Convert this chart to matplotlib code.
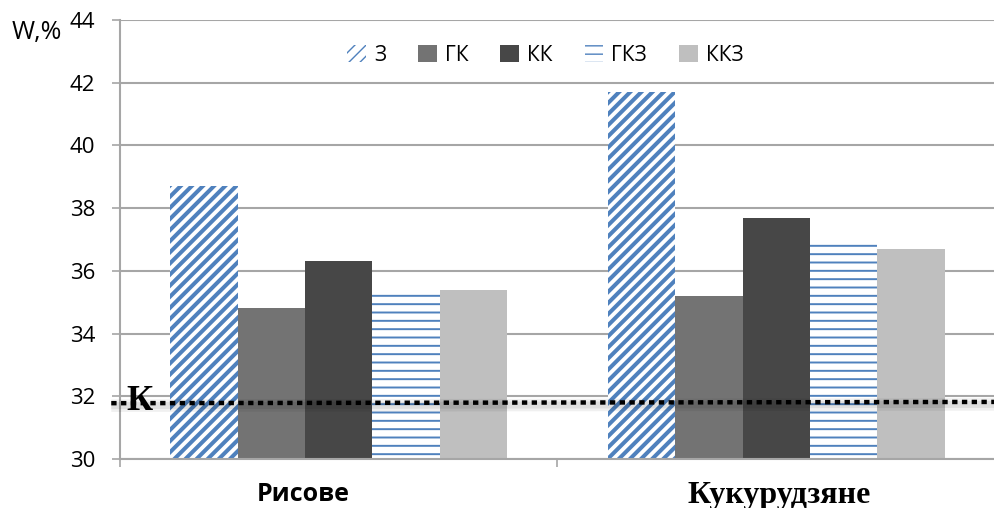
import matplotlib.pyplot as plt
import matplotlib.transforms as mtransforms
import numpy as np

categories = ['Рисове', 'Кукурудзяне']
series = ['З', 'ГК', 'КК', 'ГКЗ', 'ККЗ']
values = {
    'З':   [38.7, 41.7],
    'ГК':  [34.8, 35.2],
    'КК':  [36.3, 37.7],
    'ГКЗ': [35.4, 37.0],
    'ККЗ': [35.4, 36.7],
}
k_level = [31.78, 31.82]
yticks = [30, 32, 34, 36, 38, 40, 42, 44]

blue = '#4f81bd'
styles = {
    'З':   dict(color='white', hatch='///', edgecolor=blue, hlw=2.9),
    'ГК':  dict(color='#737373', hatch=None, edgecolor='none', hlw=1.0),
    'КК':  dict(color='#474747', hatch=None, edgecolor='none', hlw=1.0),
    'ГКЗ': dict(color='white', hatch='--', edgecolor=blue, hlw=1.4),
    'ККЗ': dict(color='#bfbfbf', hatch=None, edgecolor='none', hlw=1.0),
}

plt.rcParams['font.family'] = ['Open Sans', 'DejaVu Sans']

fig = plt.figure(figsize=(9.95, 5.08), dpi=100)
ax = fig.add_axes([0.1206, 0.0965, 0.8794, 0.864])

x = np.arange(len(categories))
width = 0.154
for i, s in enumerate(series):
    st = styles[s]
    plt.rcParams['hatch.linewidth'] = st['hlw']
    offs = (i - 2) * width
    ax.bar(x + offs, values[s], width, color=st['color'],
           hatch=st['hatch'], edgecolor=st['edgecolor'], linewidth=0,
           label=s, zorder=2)

ax.set_ylim(30, 44)
ax.set_xlim(-0.5, 1.5)
ax.set_yticks(yticks)
ax.set_yticklabels([str(t) for t in yticks], fontsize=16)
ax.grid(axis='y', color='#a6a6a6', linewidth=1.5, zorder=0)
ax.set_axisbelow(True)

ax.set_xticks([-0.5, 0.5, 1.5])
ax.set_xticklabels(['', '', ''])
ax.tick_params(axis='x', length=6, color='#a6a6a6', width=1.2)
ax.tick_params(axis='y', length=6, color='#a6a6a6', width=1.2, pad=12)
for side in ['top', 'right']:
    ax.spines[side].set_visible(False)
for side in ['left', 'bottom']:
    ax.spines[side].set_color('#a6a6a6')
    ax.spines[side].set_linewidth(1.5)

# category names under the groups
xt = ax.get_xaxis_transform()
ax.text(x[0] - 0.082, -0.096, categories[0], transform=xt,
        ha='center', va='baseline', fontsize=18, fontweight='bold')
ax.text(x[1] + 0.007, -0.100, categories[1], transform=xt,
        ha='center', va='baseline', fontsize=23, fontweight='bold',
        family='Liberation Serif')

# control level K with a soft shadow underneath
kx = [-0.52, 1.5]
shadow = mtransforms.offset_copy(ax.transData, fig=fig, y=-2.5, units='dots')
ax.plot(kx, k_level, color='black', alpha=0.06, linewidth=9,
        solid_capstyle='butt', transform=shadow, zorder=3, clip_on=False)
ax.plot(kx, k_level, color='black', alpha=0.07, linewidth=5,
        solid_capstyle='butt', transform=shadow, zorder=3, clip_on=False)
ax.plot(kx, k_level, color='black', linewidth=3.2,
        linestyle=(0, (1.2, 1.0)), dash_capstyle='butt', zorder=4, clip_on=False)
ax.text(-0.485, k_level[0] + 0.05, 'К', fontsize=26, fontweight='bold',
        family='Liberation Serif', ha='left', va='center', zorder=5)

fig.text(0.012, 0.923, 'W,%', fontsize=18, ha='left', va='baseline')

ax.legend(loc='center', bbox_to_anchor=(0.486, 0.920), ncol=5, frameon=False,
          fontsize=15, handlelength=0.9, handleheight=0.85, handletextpad=0.38,
          columnspacing=1.54)

fig.savefig('out.png', dpi=100)
